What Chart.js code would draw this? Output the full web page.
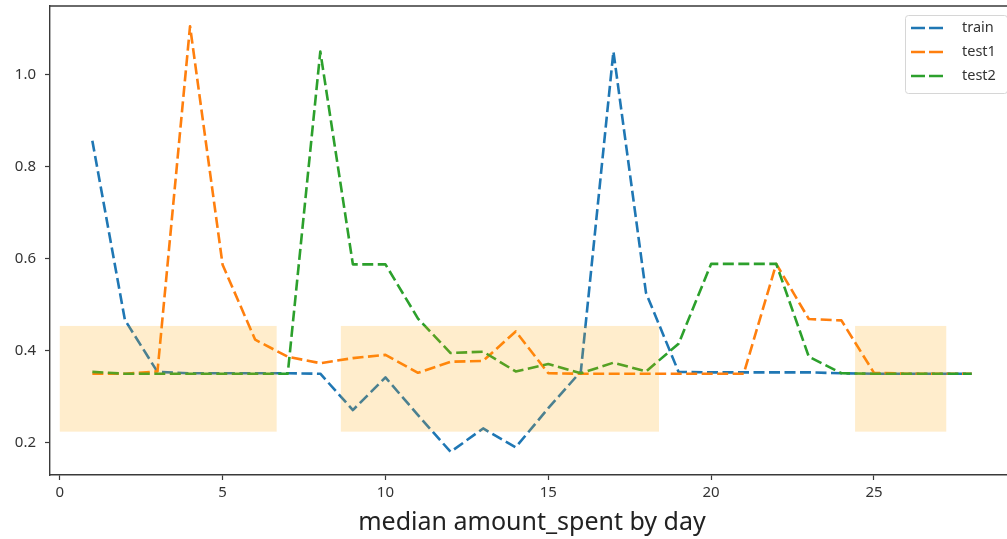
<!DOCTYPE html>
<html>
<head>
<meta charset="utf-8">
<script src="https://cdn.jsdelivr.net/npm/chart.js@4.4.1/dist/chart.umd.min.js"></script>
<style>
  html, body { margin: 0; padding: 0; background: #fff; overflow: hidden; }
  canvas { display: block; }
</style>
</head>
<body>
<canvas id="myChart" width="1020" height="539" style="width:1020px;height:539px"></canvas>
<script>
var days = [1, 2, 3, 4, 5, 6, 7, 8, 9, 10, 11, 12, 13, 14, 15, 16, 17, 18, 19, 20, 21, 22, 23, 24, 25, 26, 27, 28];

var train = [0.857, 0.467, 0.354, 0.351, 0.351, 0.351, 0.351, 0.350, 0.271, 0.342, 0.260, 0.180, 0.231, 0.190,
             0.275, 0.355, 1.051, 0.526, 0.354, 0.353, 0.353, 0.353, 0.353, 0.351, 0.350, 0.350, 0.350, 0.350];
var test1 = [0.350, 0.350, 0.355, 1.106, 0.587, 0.424, 0.387, 0.373, 0.384, 0.391, 0.352, 0.376, 0.378, 0.442,
             0.351, 0.350, 0.350, 0.350, 0.350, 0.350, 0.350, 0.589, 0.469, 0.466, 0.352, 0.350, 0.350, 0.350];
var test2 = [0.354, 0.350, 0.350, 0.350, 0.350, 0.350, 0.350, 1.051, 0.588, 0.588, 0.470, 0.395, 0.398, 0.355,
             0.371, 0.351, 0.374, 0.355, 0.415, 0.589, 0.589, 0.589, 0.387, 0.351, 0.350, 0.350, 0.350, 0.350];

var xTicks = [0, 5, 10, 15, 20, 25];
var yTicks = [0.2, 0.4, 0.6, 0.8, 1.0];

// highlighted day ranges
var spanStart = [0, 8.63, 24.42];
var spanEnd = [6.66, 18.40, 27.22];
var spanLow = 0.224;
var spanHigh = 0.454;

var lineWidth = 2.6;

function toPoints(values) {
  return days.map(function (d, i) { return { x: d, y: values[i] }; });
}

var tickFont = { family: 'Noto Sans', size: 15 };

var extras = {
  id: 'extras',
  afterDatasetsDraw: function (chart) {
    var ctx = chart.ctx, area = chart.chartArea;
    var xs = chart.scales.x, ys = chart.scales.y;
    ctx.save();
    ctx.beginPath();
    ctx.rect(area.left, area.top, area.right - area.left, area.bottom - area.top);
    ctx.clip();
    ctx.fillStyle = 'rgba(255, 165, 0, 0.2)';
    for (var i = 0; i < spanStart.length; i++) {
      var x0 = xs.getPixelForValue(spanStart[i]);
      var x1 = xs.getPixelForValue(spanEnd[i]);
      var y0 = ys.getPixelForValue(spanHigh);
      var y1 = ys.getPixelForValue(spanLow);
      ctx.fillRect(x0, y0, x1 - x0, y1 - y0);
    }
    ctx.restore();

    // top and right spines
    ctx.save();
    ctx.strokeStyle = '#3a3a3a';
    ctx.lineWidth = 1.4;
    ctx.beginPath();
    ctx.moveTo(area.left, area.top);
    ctx.lineTo(area.right, area.top);
    ctx.lineTo(area.right, area.bottom);
    ctx.stroke();
    ctx.restore();
  },
  afterDraw: function (chart) {
    var ctx = chart.ctx, area = chart.chartArea;
    var sets = chart.data.datasets;
    var w = 102, h = 78;
    var left = 905, top = area.top + 9;
    ctx.save();
    ctx.fillStyle = 'rgba(255,255,255,0.8)';
    ctx.strokeStyle = '#d6d6d6';
    ctx.lineWidth = 1;
    ctx.beginPath();
    ctx.roundRect(left + 0.5, top + 0.5, w, h, 3);
    ctx.fill();
    ctx.stroke();
    ctx.font = '14.5px "Noto Sans"';
    ctx.textBaseline = 'middle';
    for (var i = 0; i < sets.length; i++) {
      var y = top + 13 + i * 24;
      ctx.strokeStyle = sets[i].borderColor;
      ctx.lineWidth = lineWidth;
      ctx.setLineDash([14, 4]);
      ctx.beginPath();
      ctx.moveTo(left + 6, y);
      ctx.lineTo(left + 38, y);
      ctx.stroke();
      ctx.setLineDash([]);
      ctx.fillStyle = '#333';
      ctx.fillText(sets[i].label, left + 57, y);
    }
    ctx.restore();
  }
};

var ctx = document.getElementById('myChart');
var myChart = new Chart(ctx, {
  type: 'line',
  data: {
    datasets: [{
      label: 'train',
      data: toPoints(train),
      borderColor: '#1f77b4',
      order: 2
    }, {
      label: 'test1',
      data: toPoints(test1),
      borderColor: '#ff7f0e',
      order: 1
    }, {
      label: 'test2',
      data: toPoints(test2),
      borderColor: '#2ca02c',
      order: 0
    }]
  },
  options: {
    responsive: false,
    devicePixelRatio: 1,
    animation: false,
    layout: { padding: { top: 6, right: 6, left: 0, bottom: 0 } },
    elements: {
      line: {
        borderWidth: lineWidth,
        borderDash: [11, 4.5],
        borderJoinStyle: 'round',
        borderCapStyle: 'butt',
        tension: 0,
        fill: false
      },
      point: { radius: 0, hoverRadius: 0 }
    },
    plugins: {
      legend: { display: false },
      tooltip: { enabled: false }
    },
    scales: {
      x: {
        type: 'linear',
        min: -0.3,
        max: 29.3,
        afterBuildTicks: function (scale) {
          scale.ticks = xTicks.map(function (v) { return { value: v }; });
        },
        afterFit: function (scale) {
          scale.height = 64;
          scale.paddingLeft = 0;
          scale.paddingRight = 0;
        },
        grid: { drawOnChartArea: false, drawTicks: true, tickLength: 5, tickColor: '#3a3a3a', tickWidth: 1.2 },
        border: { display: true, color: '#3a3a3a', width: 1.4 },
        ticks: { color: '#333', font: tickFont, padding: 4, maxRotation: 0,
                 callback: function (v) { return String(v); } },
        title: {
          display: true,
          text: 'median amount_spent by day',
          color: '#222',
          font: { family: 'Noto Sans', size: 25 },
          padding: { top: 0, bottom: 1 }
        }
      },
      y: {
        min: 0.1297,
        max: 1.150,
        afterBuildTicks: function (scale) {
          scale.ticks = yTicks.map(function (v) { return { value: v }; });
        },
        afterFit: function (scale) {
          scale.width = 50;
          scale.paddingTop = 0;
          scale.paddingBottom = 0;
        },
        grid: { drawOnChartArea: false, drawTicks: true, tickLength: 5, tickColor: '#3a3a3a', tickWidth: 1.2 },
        border: { display: true, color: '#3a3a3a', width: 1.4 },
        ticks: { color: '#333', font: tickFont, padding: 9,
                 callback: function (v) { return v.toFixed(1); } }
      }
    }
  },
  plugins: [extras]
});
</script>
</body>
</html>
